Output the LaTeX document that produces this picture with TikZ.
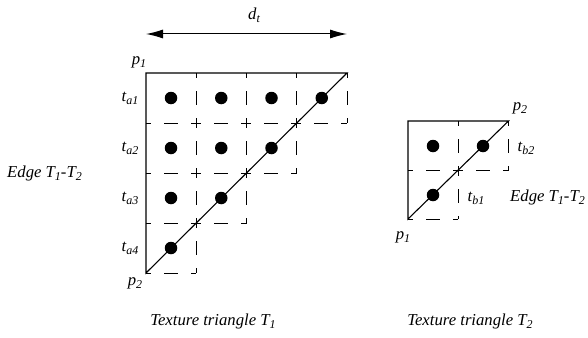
\documentclass[tikz,border=0pt]{standalone}
\usepackage{fontspec}
\setmainfont{Liberation Serif}
\usetikzlibrary{arrows.meta}
\newcommand{\sbs}[1]{\raisebox{-0.4ex}{\fontsize{12}{12}\selectfont #1}}
\begin{document}
\begin{tikzpicture}[x=1pt,y=-1pt,
  solidline/.style={line width=1.1pt},
  gridline/.style={line width=0.9pt, dash pattern=on 10pt off 13pt on 14pt off 13pt, dash phase=5pt},
  dot/.style={circle, fill=black, inner sep=0pt, minimum size=12.5pt},
  lbl/.style={font=\fontsize{16.7}{18}\selectfont\itshape, inner sep=0pt},
  dimarrow/.style={line width=1pt, {Latex[length=17pt,width=9pt]}-{Latex[length=17pt,width=9pt]}}]
\useasboundingbox (0,0) rectangle (588,337);
% ---------- Triangle T1 ----------
\coordinate (A) at (146,73);
\coordinate (B) at (347,73);
\coordinate (C) at (146,273);
\foreach \k in {1,2,3,4}{
  \draw[gridline] (146+\k*50.25,73) -- (146+\k*50.25,73+5*50-\k*50);
  \draw[gridline] (146,73+\k*50) -- (146+5*50.25-\k*50.25,73+\k*50);
}
\draw[solidline] (C) -- (A) -- (B) -- cycle;
\foreach \r in {0,1,2,3}{
  \pgfmathtruncatemacro{\cmax}{3-\r}
  \foreach \c in {0,...,\cmax}{
    \node[dot] (da\r\c) at (171+\c*50.25,98+\r*50) {};
  }
}
\coordinate (arrL) at (146,34);
\coordinate (arrR) at (347,34);
\draw[dimarrow] (arrL) -- (arrR);
\node[lbl] (dt) at (254,15) {d\sbs{t}};
\node[lbl] (p1a) at (139,62) {p\sbs{1}};
\node[lbl] (p2a) at (135,283) {p\sbs{2}};
\node[lbl] (ta1) at (130,98) {t\sbs{a1}};
\node[lbl] (ta2) at (130,148) {t\sbs{a2}};
\node[lbl] (ta3) at (130,198) {t\sbs{a3}};
\node[lbl] (ta4) at (130,248) {t\sbs{a4}};
\node[lbl,anchor=west] (edgeL) at (7,173) {Edge T\sbs{1}-T\sbs{2}};
\node[lbl] (capA) at (213,321) {Texture triangle T\sbs{1}};
% ---------- Triangle T2 ----------
\coordinate (D) at (408,121);
\coordinate (E) at (508.5,121);
\coordinate (F) at (408,219);
\draw[gridline] (458.25,121) -- (458.25,219);
\draw[gridline] (508.5,121) -- (508.5,170);
\draw[gridline] (408,170) -- (508.5,170);
\draw[gridline] (408,219) -- (458.25,219);
\draw[solidline] (F) -- (D) -- (E) -- cycle;
\node[dot] (db1) at (433,146) {};
\node[dot] (db2) at (483,146) {};
\node[dot] (db3) at (433,195) {};
\node[lbl] (p2b) at (520,108) {p\sbs{2}};
\node[lbl] (p1b) at (403,237) {p\sbs{1}};
\node[lbl] (tb2) at (526,148) {t\sbs{b2}};
\node[lbl] (tb1) at (476,198) {t\sbs{b1}};
\node[lbl,anchor=west] (edgeR) at (510,197) {Edge T\sbs{1}-T\sbs{2}};
\node[lbl] (capB) at (470,321) {Texture triangle T\sbs{2}};
\end{tikzpicture}
\end{document}
